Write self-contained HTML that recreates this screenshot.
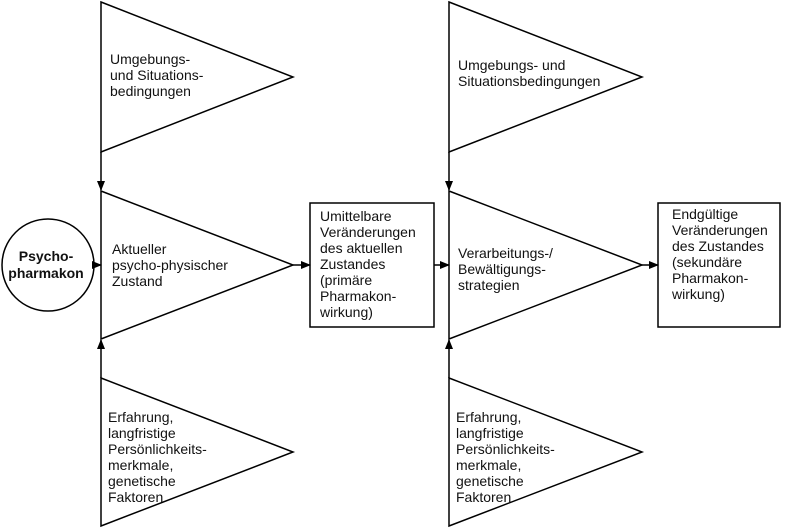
<!DOCTYPE html>
<html><head><meta charset="utf-8"><style>
html,body{margin:0;padding:0;background:#fff}
svg{display:block}
text{font-family:"Liberation Sans",sans-serif;font-size:14px;fill:#111}
</style></head><body>
<svg width="786" height="530" viewBox="0 0 786 530" xmlns="http://www.w3.org/2000/svg">
<defs><marker id="a" markerWidth="10" markerHeight="8" refX="9" refY="4" orient="auto" markerUnits="userSpaceOnUse"><path d="M0,0 L10,4 L0,8 z" fill="#000"/></marker></defs>
<g fill="none" stroke="#000" stroke-width="1.5">
<polygon points="101,2 293,77 101,152"/>
<polygon points="101,191 293,265 101,339"/>
<polygon points="101,378 293,452 101,526"/>
<polygon points="449,2 642,77 449,152"/>
<polygon points="449,191 642,265 449,339"/>
<polygon points="449,378 642,452 449,526"/>
<circle cx="48" cy="265" r="46"/>
<rect x="310" y="203" width="124" height="124"/>
<rect x="658" y="203" width="122" height="124"/>
<line x1="101" y1="152" x2="101" y2="190" marker-end="url(#a)"/>
<line x1="101" y1="378" x2="101" y2="340" marker-end="url(#a)"/>
<line x1="449" y1="152" x2="449" y2="190" marker-end="url(#a)"/>
<line x1="449" y1="378" x2="449" y2="340" marker-end="url(#a)"/>
<line x1="94" y1="265" x2="101" y2="265" marker-end="url(#a)"/>
<line x1="293" y1="265" x2="310" y2="265" marker-end="url(#a)"/>
<line x1="434" y1="265" x2="449" y2="265" marker-end="url(#a)"/>
<line x1="642" y1="265" x2="658" y2="265" marker-end="url(#a)"/>
</g>
<text x="46" y="261" text-anchor="middle" style="font-weight:bold;font-size:14px">Psycho-</text>
<text x="46" y="278" text-anchor="middle" style="font-weight:bold;font-size:14px">pharmakon</text>
<text x="110" y="64">Umgebungs-</text><text x="110" y="80">und Situations-</text><text x="110" y="96">bedingungen</text>
<text x="112" y="254">Aktueller</text><text x="112" y="270">psycho-physischer</text><text x="112" y="286">Zustand</text>
<text x="108" y="422">Erfahrung,</text><text x="108" y="438">langfristige</text><text x="108" y="454">Persönlichkeits-</text><text x="108" y="470">merkmale,</text><text x="108" y="486">genetische</text><text x="108" y="502">Faktoren</text>
<text x="320" y="221">Umittelbare</text><text x="320" y="237">Veränderungen</text><text x="320" y="253">des aktuellen</text><text x="320" y="269">Zustandes</text><text x="320" y="285">(primäre</text><text x="320" y="301">Pharmakon-</text><text x="320" y="317">wirkung)</text>
<text x="458" y="70">Umgebungs- und</text><text x="458" y="86">Situationsbedingungen</text>
<text x="458" y="258">Verarbeitungs-/</text><text x="458" y="274">Bewältigungs-</text><text x="458" y="290">strategien</text>
<text x="456" y="422">Erfahrung,</text><text x="456" y="438">langfristige</text><text x="456" y="454">Persönlichkeits-</text><text x="456" y="470">merkmale,</text><text x="456" y="486">genetische</text><text x="456" y="502">Faktoren</text>
<text x="672" y="219">Endgültige</text><text x="672" y="235">Veränderungen</text><text x="672" y="251">des Zustandes</text><text x="672" y="267">(sekundäre</text><text x="672" y="283">Pharmakon-</text><text x="672" y="299">wirkung)</text>
</svg>
</body></html>
